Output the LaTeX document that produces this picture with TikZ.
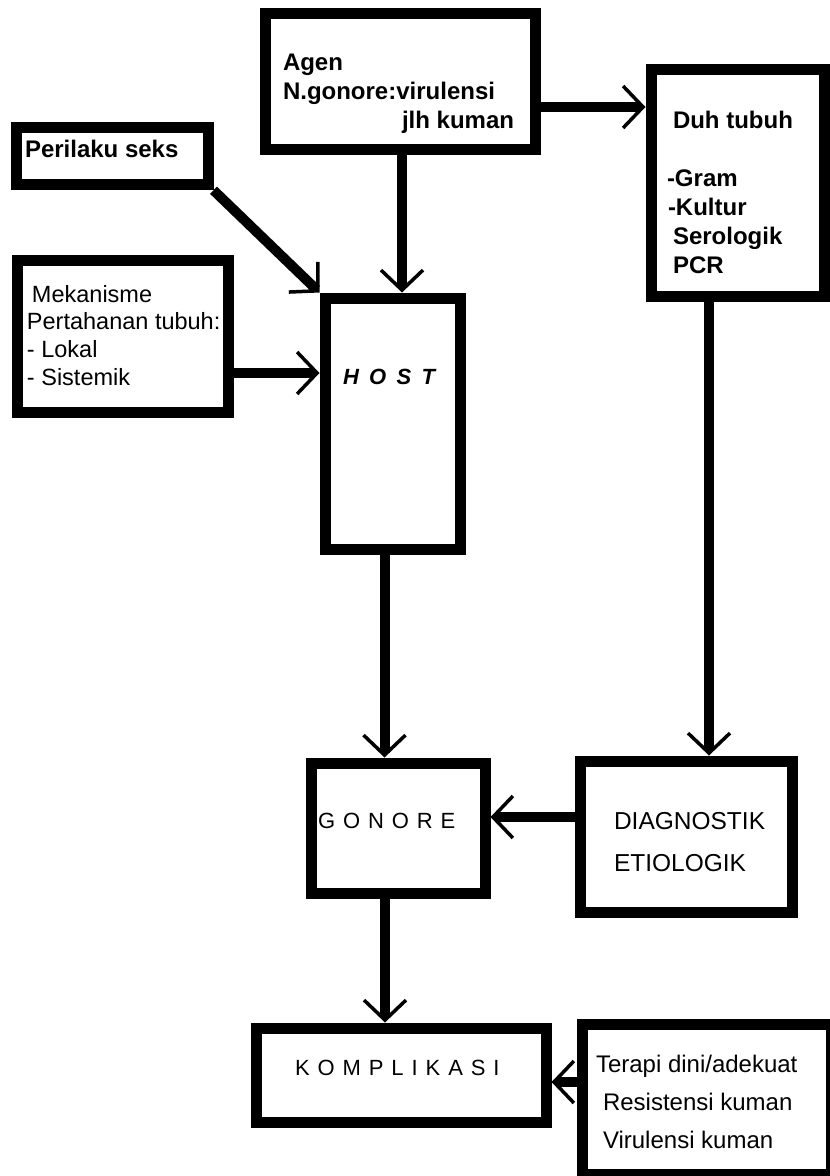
\documentclass[tikz,border=0pt]{standalone}
\usepackage{fontspec}
\setmainfont{Liberation Sans}
\usetikzlibrary{arrows.meta}
\begin{document}
\begin{tikzpicture}[x=1pt,y=-1pt,
  box/.style={draw,line width=11pt,fill=white,rectangle,inner sep=0pt},
  link/.style={line width=10pt,-{Straight Barb[length=20pt,width=42pt,line width=3.5pt]}},
  lbl/.style={anchor=base west,inner sep=0pt,outer sep=0pt},
  bold/.style={lbl,font=\fontsize{24}{29}\selectfont\bfseries},
  plain/.style={lbl,font=\fontsize{23.5}{27.7}\selectfont},
  spaced/.style={lbl,font=\fontsize{22}{26}\selectfont\addfontfeature{LetterSpace=36}},
]
\useasboundingbox (0,0) rectangle (830,1176);
\clip (0,0) rectangle (830,1176);

% boxes
\node[box,minimum width=270pt,minimum height=136pt] (agen) at (400,81) {};
\node[box,minimum width=173pt,minimum height=227pt] (duh) at (737.5,182.5) {};
\node[box,minimum width=192pt,minimum height=57.5pt] (seks) at (112,156) {};
\node[box,minimum width=210.5pt,minimum height=152pt] (mek) at (122.75,336) {};
\node[box,minimum width=135pt,minimum height=251pt] (host) at (392.5,423.5) {};
\node[box,minimum width=174pt,minimum height=130pt] (gon) at (398,828) {};
\node[box,minimum width=212pt,minimum height=151pt] (diag) at (686,836.5) {};
\node[box,minimum width=290pt,minimum height=94pt] (komp) at (401,1075) {};
\node[box,minimum width=249pt,minimum height=150pt] (terapi) at (706.5,1099) {};

% connectors
\draw[link] ([xshift=2pt]agen.south) -- ([xshift=2pt]agen.south |- host.north);
\draw[link] ([yshift=-26pt]agen.east) -- ([yshift=-26pt]agen.east -| duh.west);
\draw[link] (seks.south east) -- (host.north west);
\draw[link] ([yshift=-37pt]mek.east) -- ([yshift=-37pt]mek.east -| host.west);
\draw[link] ([xshift=-8pt]host.south) -- ([xshift=-8pt]host.south |- gon.north);
\draw[link] ([xshift=-28.5pt]duh.south) -- ([xshift=-28.5pt]duh.south |- diag.north);
\draw[link] ([yshift=19.5pt]diag.west) -- ([yshift=19.5pt]diag.west -| gon.east);
\draw[link] ([xshift=-13pt]gon.south) -- ([xshift=-13pt]gon.south |- komp.north);
\draw[link] ([yshift=17pt]terapi.west) -- ([yshift=17pt]terapi.west -| komp.east);

% texts
\node[bold] (agen-t) at (283,70) {\begin{tabular}[t]{@{}l@{}}Agen\\N.gonore:virulensi\\\hspace*{119pt}jlh kuman\end{tabular}};
\node[bold] (seks-t) at (25,157) {Perilaku seks};
\node[plain] (mek-t) at (27,302) {\begin{tabular}[t]{@{}l@{}}\hspace*{5pt}Mekanisme\\Pertahanan tubuh:\\- Lokal\\- Sistemik\end{tabular}};
\node[lbl,font=\fontsize{22}{26}\selectfont\bfseries\itshape\addfontfeature{LetterSpace=47}] (host-t) at (343,384) {HOST};
\node[bold] (duh-t) at (667,128) {\begin{tabular}[t]{@{}l@{}}\hspace*{6pt}Duh tubuh\\[0pt]\\-Gram\\\hspace*{1pt}-Kultur\\\hspace*{6pt}Serologik\\\hspace*{6pt}PCR\end{tabular}};
\node[spaced] (gon-t) at (318,828) {GONORE};
\node[lbl,font=\fontsize{24.5}{42}\selectfont] (diag-t) at (614,829) {\begin{tabular}[t]{@{}l@{}}DIAGNOSTIK\\ETIOLOGIK\end{tabular}};
\node[spaced] (komp-t) at (295,1075) {KOMPLIKASI};
\node[lbl,font=\fontsize{24}{38}\selectfont] (terapi-t) at (596,1072) {\begin{tabular}[t]{@{}l@{}}Terapi dini/adekuat\\\hspace*{7pt}Resistensi kuman\\\hspace*{7pt}Virulensi kuman\end{tabular}};
\end{tikzpicture}
\end{document}
